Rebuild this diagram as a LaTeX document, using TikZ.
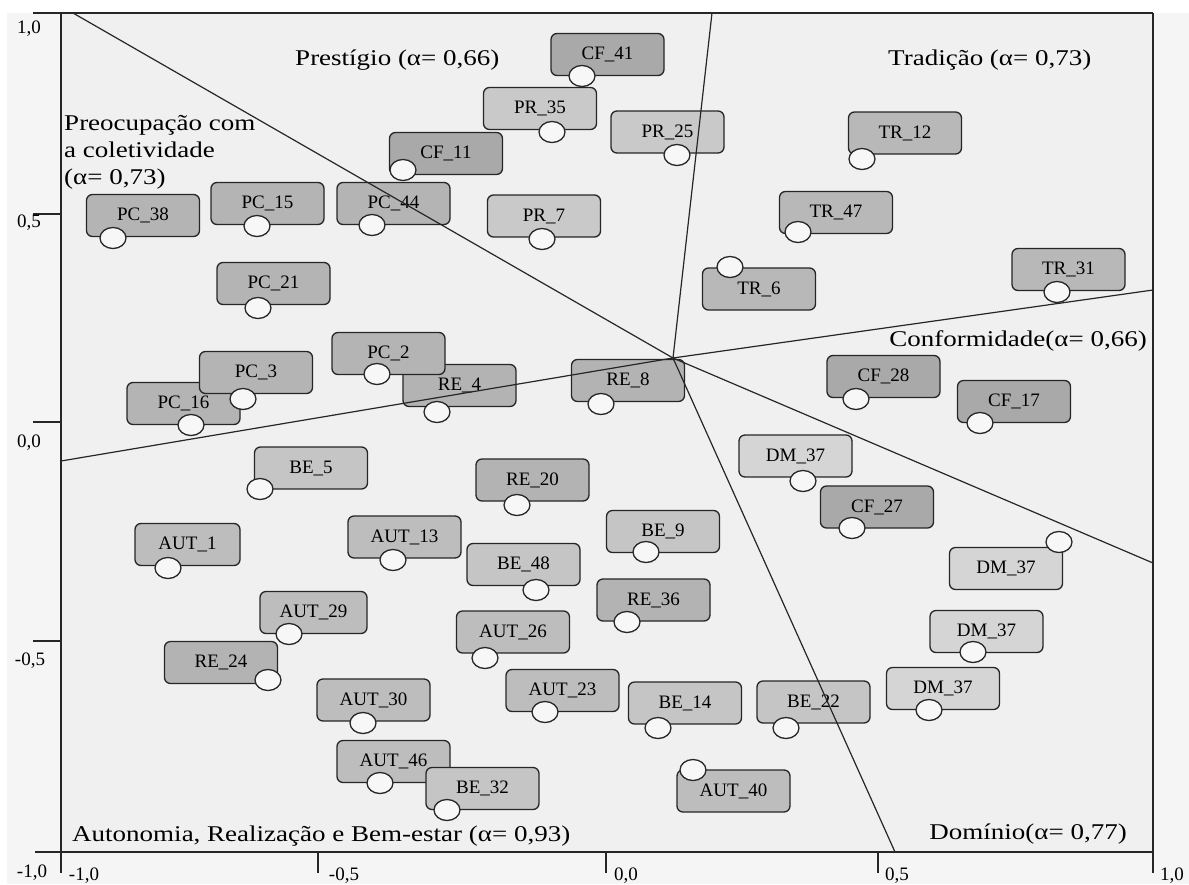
\documentclass[tikz,border=0pt]{standalone}
\usepackage{fontspec}
\setmainfont{Liberation Serif}
\usetikzlibrary{shapes.geometric}
\definecolor{outerbg}{HTML}{F5F5F5}
\definecolor{plotbg}{HTML}{F0F0F0}
\definecolor{cfcol}{HTML}{A9A9A9}
\definecolor{pccol}{HTML}{B4B4B4}
\definecolor{prcol}{HTML}{C9C9C9}
\definecolor{trcol}{HTML}{B8B8B8}
\definecolor{recol}{HTML}{B3B3B3}
\definecolor{becol}{HTML}{C5C5C5}
\definecolor{autcol}{HTML}{BDBDBD}
\definecolor{dmcol}{HTML}{D5D5D5}
\definecolor{linecol}{HTML}{262626}
\newcommand\boxfont{\fontsize{19}{22}\selectfont}
\newcommand\headfont{\fontsize{22.5}{27}\selectfont}
\newcommand\tickfont{\fontsize{19}{22}\selectfont}
\tikzset{
  bx/.style={draw=linecol, line width=1.3pt, rounded corners=6pt,
    minimum width=113pt, minimum height=42pt, inner sep=0pt, font=\boxfont},
  cfb/.style={bx, fill=cfcol},
  pcb/.style={bx, fill=pccol},
  prb/.style={bx, fill=prcol},
  trb/.style={bx, fill=trcol},
  reb/.style={bx, fill=recol},
  beb/.style={bx, fill=becol},
  autb/.style={bx, fill=autcol},
  dmb/.style={bx, fill=dmcol},
  dot/.style={draw=linecol, line width=1.3pt, fill=white!97!black, ellipse,
    minimum width=26pt, minimum height=21pt, inner sep=0pt},
  ray/.style={draw=linecol, line width=1.2pt},
  axis/.style={draw=linecol, line width=1.4pt},
  head/.style={font=\headfont, inner sep=0pt, xscale=1.2},
  tick/.style={font=\tickfont, inner sep=0pt, anchor=base},
}
\begin{document}
\begin{tikzpicture}[x=1pt,y=-1pt]
\useasboundingbox (0,0) rectangle (1189,884);
\fill[white] (0,0) rectangle (1189,884);
\fill[outerbg] (7,13) rectangle (1189,884);
% frame corners
\coordinate (fTL) at (61,13);
\coordinate (fBR) at (1153,852);
\fill[plotbg] (fTL) rectangle (fBR);

% boxes
\node[cfb] (cf41) at (607.5,54.5) {CF\_41};
\node[prb] (pr35) at (540,108.5) {PR\_35};
\node[prb] (pr25) at (667.5,132) {PR\_25};
\node[cfb] (cf11) at (446,153.5) {CF\_11};
\node[pcb] (pc44) at (393.5,203.5) {PC\_44};
\node[prb] (pr7) at (544,216) {PR\_7};
\node[trb] (tr6) at (759,289) {TR\_6};
\node[trb] (tr12) at (905,133) {TR\_12};
\node[trb] (tr47) at (836,212.5) {TR\_47};
\node[trb] (tr31) at (1068.5,269.5) {TR\_31};
\node[pcb] (pc38) at (143,215.5) {PC\_38};
\node[pcb] (pc15) at (267.5,203.5) {PC\_15};
\node[pcb] (pc21) at (273.5,283.5) {PC\_21};
\node[pcb] (pc16) at (183.5,403.5) {PC\_16};
\node[pcb] (pc3) at (256,372.5) {PC\_3};
\node[reb] (re4) at (459.5,385.5) {RE\_4};
\node[pcb] (pc2) at (388.5,353.5) {PC\_2};
\node[reb] (re8) at (628,380.5) {RE\_8};
\node[beb] (be5) at (311,468) {BE\_5};
\node[autb, minimum width=105pt] (aut1) at (187.5,544.5) {AUT\_1};
\node[reb] (re20) at (532.5,480) {RE\_20};
\node[beb] (be9) at (663,531.5) {BE\_9};
\node[autb] (aut13) at (404.5,537) {AUT\_13};
\node[beb] (be48) at (523.5,564.5) {BE\_48};
\node[dmb] (dm37a) at (795.5,456) {DM\_37};
\node[cfb] (cf28) at (883.5,376.5) {CF\_28};
\node[cfb] (cf17) at (1014,401.5) {CF\_17};
\node[cfb] (cf27) at (877,507) {CF\_27};
\node[dmb] (dm37b) at (1006,568.5) {DM\_37};
\node[dmb] (dm37c) at (986.5,631.5) {DM\_37};
\node[dmb] (dm37d) at (943,688.5) {DM\_37};
\node[autb, minimum width=107pt] (aut29) at (313.5,612.5) {AUT\_29};
\node[reb] (re24) at (221,662.5) {RE\_24};
\node[autb] (aut30) at (373.5,700) {AUT\_30};
\node[autb] (aut46) at (393.5,761.5) {AUT\_46};
\node[beb] (be32) at (482.5,788.5) {BE\_32};
\node[autb] (aut26) at (513,632) {AUT\_26};
\node[reb] (re36) at (653.5,600) {RE\_36};
\node[autb] (aut23) at (562.5,690.5) {AUT\_23};
\node[beb] (be14) at (685,703) {BE\_14};
\node[beb] (be22) at (813.5,702) {BE\_22};
\node[autb] (aut40) at (733.5,791) {AUT\_40};

% rays from the centre
\coordinate (ctr) at (673,358);
\coordinate (eTL) at (73,13);
\coordinate (eT) at (712,13);
\coordinate (eR) at (1153,290);
\coordinate (eBR) at (1153,563);
\coordinate (eB) at (895,852);
\coordinate (eL) at (61,461);
\draw[ray] (ctr) -- (eTL);
\draw[ray] (ctr) -- (eT);
\draw[ray] (ctr) -- (eR);
\draw[ray] (ctr) -- (eBR);
\draw[ray] (ctr) -- (eB);
\draw[ray] (ctr) -- (eL);

% circles
\node[dot] (cf41c) at (582,76) {};
\node[dot] (pr35c) at (552,132) {};
\node[dot] (pr25c) at (677,155) {};
\node[dot] (cf11c) at (403,170) {};
\node[dot] (pc44c) at (372,225) {};
\node[dot] (pr7c) at (542,239) {};
\node[dot] (tr6c) at (730,267) {};
\node[dot] (tr12c) at (862,159) {};
\node[dot] (tr47c) at (798,232) {};
\node[dot] (tr31c) at (1057,292) {};
\node[dot] (pc38c) at (113,238) {};
\node[dot] (pc15c) at (257,226) {};
\node[dot] (pc21c) at (258,308) {};
\node[dot] (pc16c) at (191,425) {};
\node[dot] (pc3c) at (243,399) {};
\node[dot] (re4c) at (437,412) {};
\node[dot] (pc2c) at (377,374) {};
\node[dot] (re8c) at (601,404) {};
\node[dot] (be5c) at (260,489) {};
\node[dot] (aut1c) at (168,568) {};
\node[dot] (re20c) at (517,505) {};
\node[dot] (be9c) at (646,552) {};
\node[dot] (aut13c) at (393,560) {};
\node[dot] (be48c) at (536,590) {};
\node[dot] (dm37ac) at (803,481) {};
\node[dot] (cf28c) at (856,399) {};
\node[dot] (cf17c) at (980,423) {};
\node[dot] (cf27c) at (852,528) {};
\node[dot] (dm37bc) at (1059,542) {};
\node[dot] (dm37cc) at (973,652) {};
\node[dot] (dm37dc) at (929,710) {};
\node[dot] (aut29c) at (289,634) {};
\node[dot] (re24c) at (268,680) {};
\node[dot] (aut30c) at (363,723) {};
\node[dot] (aut46c) at (380,783) {};
\node[dot] (be32c) at (447,810) {};
\node[dot] (aut26c) at (485,658) {};
\node[dot] (re36c) at (627,622) {};
\node[dot] (aut23c) at (545,712) {};
\node[dot] (be14c) at (658,728) {};
\node[dot] (be22c) at (786,728) {};
\node[dot] (aut40c) at (693,770) {};

% axes and frame
\coordinate (aTopL) at (33,13);
\coordinate (aTopR) at (1153,13);
\coordinate (aBotL) at (35,852);
\coordinate (aBotR) at (1153,852);
\draw[axis] (aTopL) -- (aTopR);
\draw[axis] (aBotL) -- (aBotR);
\draw[axis] (61,13) -- (61,873);
\draw[axis] (1153,13) -- (1153,873);
\draw[axis] (33,214) -- (61,214);
\draw[axis] (33,422) -- (61,422);
\draw[axis] (33,641) -- (61,641);
\draw[axis] (318,852) -- (318,873);
\draw[axis] (606,852) -- (606,873);
\draw[axis] (878,852) -- (878,873);

% tick labels
\node[tick] (y10) at (29,33) {1,0};
\node[tick] (y05) at (29,227) {0,5};
\node[tick] (y00) at (29,447) {0,0};
\node[tick] (ym05) at (30,665) {-0,5};
\node[tick] (ym10) at (32,877) {-1,0};
\node[tick] (xm10) at (84,880) {-1,0};
\node[tick] (xm05) at (344,880) {-0,5};
\node[tick] (x00) at (626,880) {0,0};
\node[tick] (x05) at (897,880) {0,5};
\node[tick] (x10) at (1172,880) {1,0};

% region labels
\node[head, anchor=base west] (lpr) at (295,65) {Prestígio (α= 0,66)};
\node[head, anchor=base west] (ltr) at (888,65) {Tradição (α= 0,73)};
\node[head, anchor=base west] (lpc1) at (64,130) {Preocupação com};
\node[head, anchor=base west] (lpc2) at (64,157) {a coletividade};
\node[head, anchor=base west] (lpc3) at (64,184) {(α= 0,73)};
\node[head, anchor=base east] (lcf) at (1147,346) {Conformidade(α= 0,66)};
\node[head, anchor=base east] (ldm) at (1127,839) {Domínio(α= 0,77)};
\node[head, anchor=base west] (lau) at (72,841) {Autonomia, Realização e Bem-estar (α= 0,93)};
\end{tikzpicture}
\end{document}
